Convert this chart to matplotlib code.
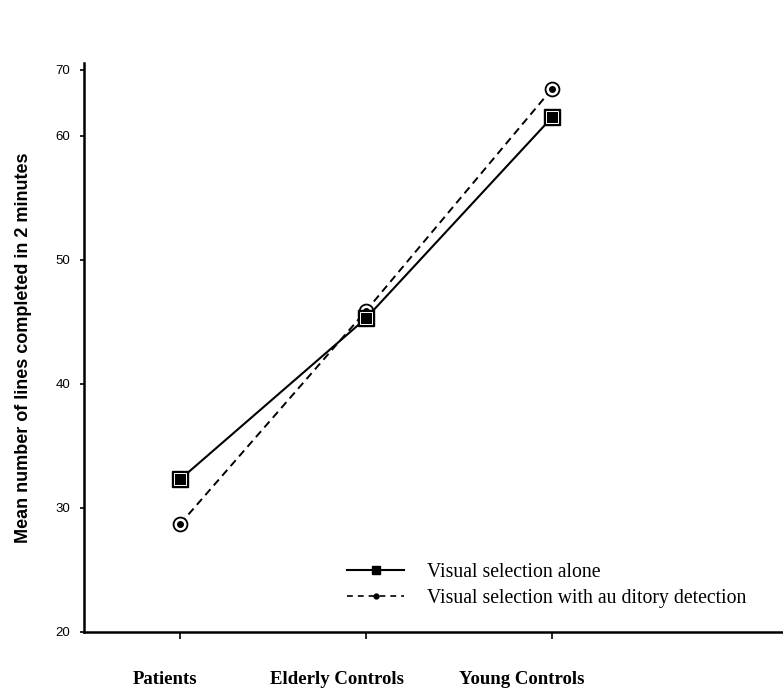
import numpy as np
import matplotlib.pyplot as plt
from matplotlib.lines import Line2D
from matplotlib.transforms import blended_transform_factory

# Data
groups = ['Patients', 'Elderly Controls', 'Young Controls']
visual_alone = [32.3, 45.3, 61.5]
visual_auditory = [28.7, 45.9, 63.8]
legend_labels = ['Visual selection alone', 'Visual selection with au ditory detection']

ytick_values = [20, 30, 40, 50, 60]
ylabel = 'Mean number of lines completed in 2 minutes'

x = np.arange(1, len(groups) + 1)

fig = plt.figure(figsize=(7.83, 6.95), dpi=100)
ax = fig.add_axes([84 / 783, 63 / 695, 1 - 84 / 783, (632 - 63) / 695])

# dashed series with open circle + dot
ax.plot(x, visual_auditory, color='black', lw=1.4, ls=(0, (4, 2.6)), zorder=2)
ax.plot(x, visual_auditory, ls='none', marker='o', ms=10, mfc='white', mec='black', mew=1.3, zorder=3)
ax.plot(x, visual_auditory, ls='none', marker='o', ms=4, mfc='black', mec='black', zorder=3)

# solid series with filled squares
ax.plot(x, visual_alone, color='black', lw=1.5, zorder=4)
ax.plot(x, visual_alone, ls='none', marker='s', ms=11.5, mfc='black', mec='black', mew=1, zorder=5)
ax.plot(x, visual_alone, ls='none', marker='s', ms=9, mfc='black', mec='white', mew=0.7, zorder=6)

# axes limits: top tick labelled 70 sits where the original drew it
top_pos = 20 + (632 - 70) / 12.4
ax.set_ylim(20, 20 + (632 - 63) / 12.4)
ax.set_xlim(1 - 96 / 186, 3 + 231 / 186)

ax.set_yticks(ytick_values + [top_pos])
ax.set_yticklabels([str(v) for v in ytick_values] + ['70'],
                   fontfamily='Liberation Sans', fontsize=9.5)
ax.tick_params(axis='y', length=3, width=1.2, pad=7)
ax.set_xticks(x)
ax.set_xticklabels([])
ax.tick_params(axis='x', direction='out', length=5, width=1.2)

for side in ['top', 'right']:
    ax.spines[side].set_visible(False)
for side in ['left', 'bottom']:
    ax.spines[side].set_linewidth(1.8)

# category labels sit a little left of their ticks
offsets = [-11, -21, -22]
trans = blended_transform_factory(ax.transData, ax.transAxes)
for xi, name, dx in zip(x, groups, offsets):
    ax.annotate(name, xy=(xi, 0), xycoords=trans, xytext=(dx, -34),
                textcoords='offset points', ha='center', va='center',
                fontfamily='Liberation Serif', fontweight='bold', fontsize=13.5)

ax.set_ylabel(ylabel, fontfamily='Liberation Sans', fontweight='bold', fontsize=13)
ax.yaxis.set_label_coords(-0.075, 0.5)

handles = [
    Line2D([], [], color='black', lw=1.5, marker='s', ms=6, mfc='black', mec='black'),
    Line2D([], [], color='black', lw=1.2, ls=(0, (3.5, 3)), marker='o', ms=3.5, mfc='black', mec='black'),
]
fig.legend(handles, legend_labels, loc='upper left',
           bbox_to_anchor=(347 / 783, 1 - 563 / 695), frameon=False,
           prop={'family': 'Liberation Serif', 'size': 14.2},
           handlelength=2.9, handletextpad=1.15, labelspacing=0.35,
           borderaxespad=0, borderpad=0)

fig.savefig('out.png', dpi=100)
